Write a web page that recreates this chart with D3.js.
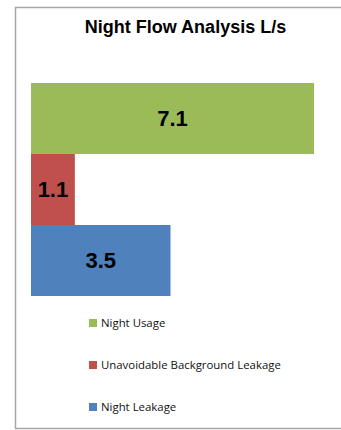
<!DOCTYPE html>
<html>
<head>
<meta charset="utf-8">
<script src="https://cdn.jsdelivr.net/npm/d3@7"></script>
<style>
  body { margin: 0; background: #fff; }
  svg { display: block; }
</style>
</head>
<body>
<svg id="chart" width="341" height="430"></svg>
<script>
const categories = ['Night Usage', 'Unavoidable Background Leakage', 'Night Leakage']
const values = [7.1, 1.1, 3.5]
const colors = ['#9BBB59', '#C0504D', '#4F81BD']
const title = 'Night Flow Analysis L/s'

const svg = d3.select('#chart')

// outer chart frame, runs off the right and bottom edges
svg.append('rect')
  .attr('x', 15.5).attr('y', 7.5)
  .attr('width', 400).attr('height', 421)
  .attr('fill', 'none')
  .attr('stroke', '#a6a6a6')
  .attr('stroke-width', 1.5)

svg.append('text')
  .attr('x', 185.5).attr('y', 33)
  .attr('text-anchor', 'middle')
  .attr('font-family', 'Liberation Sans, Arial, sans-serif')
  .attr('font-weight', 'bold')
  .attr('font-size', 18)
  .text(title)

let x = d3.scaleLinear().domain([0, 7.1]).range([31, 314])
let y = d3.scaleBand().domain(categories).range([83, 296]).padding(0)

let data = categories.map((c, i) => ({ cat: c, value: values[i], color: colors[i] }))

svg.selectAll('rect.bar')
  .data(data)
  .join('rect')
  .attr('class', 'bar')
  .attr('x', x(0))
  .attr('y', d => y(d.cat))
  .attr('width', d => x(d.value) - x(0))
  .attr('height', y.bandwidth())
  .attr('fill', d => d.color)

svg.selectAll('text.val')
  .data(data)
  .join('text')
  .attr('class', 'val')
  .attr('x', d => (x(0) + x(d.value)) / 2)
  .attr('y', d => y(d.cat) + y.bandwidth() / 2)
  .attr('dy', '0.36em')
  .attr('text-anchor', 'middle')
  .attr('font-family', 'Liberation Sans, Arial, sans-serif')
  .attr('font-weight', 'bold')
  .attr('font-size', 22)
  .text(d => d.value.toFixed(1))

// legend
let ly = d3.scalePoint().domain(categories).range([323, 407])
let legend = svg.selectAll('g.leg')
  .data(data)
  .join('g')
  .attr('class', 'leg')
  .attr('transform', d => `translate(89,${ly(d.cat)})`)

legend.append('rect')
  .attr('x', 0).attr('y', -4)
  .attr('width', 8).attr('height', 8)
  .attr('fill', d => d.color)

legend.append('text')
  .attr('x', 12).attr('y', 0)
  .attr('dy', '0.35em')
  .attr('font-family', 'Open Sans, Liberation Sans, sans-serif')
  .attr('font-size', 11.4)
  .attr('fill', '#111')
  .text(d => d.cat)
</script>
</body>
</html>
